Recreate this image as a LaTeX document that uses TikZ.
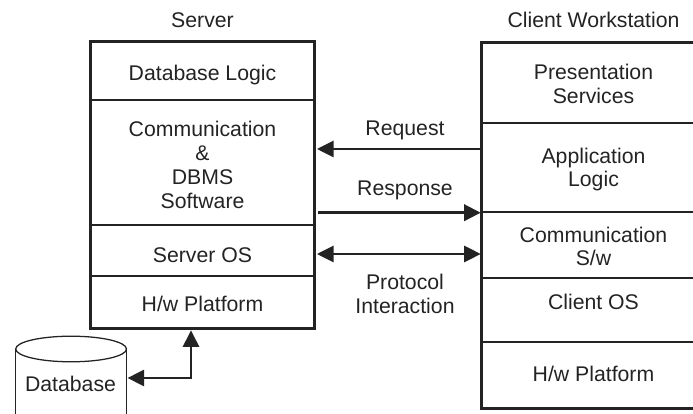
\documentclass[tikz,border=0pt]{standalone}
\usepackage{fontspec}
\setmainfont{Liberation Sans}
\usetikzlibrary{arrows.meta}
\definecolor{ink}{HTML}{232323}
\tikzstyle{arrow} = [line width=1.4pt,{Triangle[length=11.8pt,width=11.6pt]}-{Triangle[length=11.8pt,width=11.6pt]},shorten <=1.6pt,shorten >=0.4pt]
\tikzstyle{oneway} = [line width=1.4pt,-{Triangle[length=11.8pt,width=11.6pt]},shorten >=0.4pt]
\tikzstyle{layer} = [draw,line width=1pt,inner sep=0pt]
\tikzstyle{tag} = [inner sep=0pt,align=center,font=\fontsize{15.1}{16.9}\selectfont]
\tikzstyle{frame} = [line width=1.4pt]

\begin{document}
\begin{tikzpicture}[x=0.025cm,y=0.025cm,color=ink]
	\useasboundingbox (0,0) rectangle (693,414);
	\clip (0,0) rectangle (693,414);
	\def \sx {202.5}
	\def \cx {593.5}
	\def \bw {5.575}
	% layers as name/centre/top/bottom/text drop/text, y measured from the top of the picture
	\foreach \name/\xpos/\ytop/\ybot/\drop/\txt in {
		serverdb/\sx/42/100/4/{Database Logic},
		servercomm/\sx/100/225/2.5/{Communication\\\&\\DBMS\\Software},
		serveros/\sx/225/276/4.5/{Server OS},
		serverhw/\sx/276/328/1.5/{H/w Platform},
		clientpres/\cx/43/123/1/{Presentation\\Services},
		clientapp/\cx/123/212/2/{Application\\Logic},
		clientcomm/\cx/212/278/1.5/{Communication\\S/w},
		clientos/\cx/278/342/-8.5/{Client OS},
		clienthw/\cx/342/408/-1/{H/w Platform}} {
		\pgfmathsetmacro{\ypos}{414-(\ytop+\ybot)/2}
		\pgfmathsetmacro{\yh}{(\ybot-\ytop)*0.025}
		\node (\name) at (\xpos,\ypos) [layer,minimum width=\bw cm,minimum height=\yh cm] {};
		\node (\name text) at (\xpos,\ypos-\drop) [tag] {\txt};
	}
	\draw [frame] (serverdb.north west) rectangle (serverhw.south east);
	\draw [frame] (clientpres.north west) rectangle (clienthw.south east);

	\node (servertag) at (\sx,394) [tag] {Server};
	\node (clienttag) at (\cx,394) [tag] {Client Workstation};
	\node (request) at (405,284) [tag] {Request};
	\node (response) at (405,224) [tag] {Response};
	\node (protocol) at (405,120) [tag] {Protocol\\Interaction};

	% database, cut off by the lower edge
	\node (database) at (70.5,30) [tag] {Database};
	\coordinate (dbleft) at (15.7,65);
	\coordinate (dbright) at (126.5,65);
	\draw [line width=0.9pt] (dbleft) -- (15.7,0) (dbright) -- (126.5,0);
	\draw [line width=0.9pt] (71.1,65) ellipse (55.4 and 12.8);

	\coordinate (reqfrom) at (clientapp.north west |- 0,265);
	\coordinate (reqto) at (serverdb.east |- 0,265);
	\coordinate (respfrom) at (serverdb.east |- clientapp.south west);
	\coordinate (protoleft) at (serverdb.east |- 0,160);
	\coordinate (protoright) at (clientapp.west |- 0,160);
	\coordinate (hwport) at (191,0 |- serverhw.south);
	\coordinate (dbport) at (127,36);

	\draw [oneway,shorten >=1.6pt] (reqfrom) -- (reqto);
	\draw [oneway,line width=2pt,shorten <=2pt] (respfrom) -- (clientapp.south west);
	\draw [arrow] (protoleft) -- (protoright);
	\draw [arrow,shorten <=0.4pt,shorten >=1.2pt] (dbport) -| (hwport);
\end{tikzpicture}
\end{document}
